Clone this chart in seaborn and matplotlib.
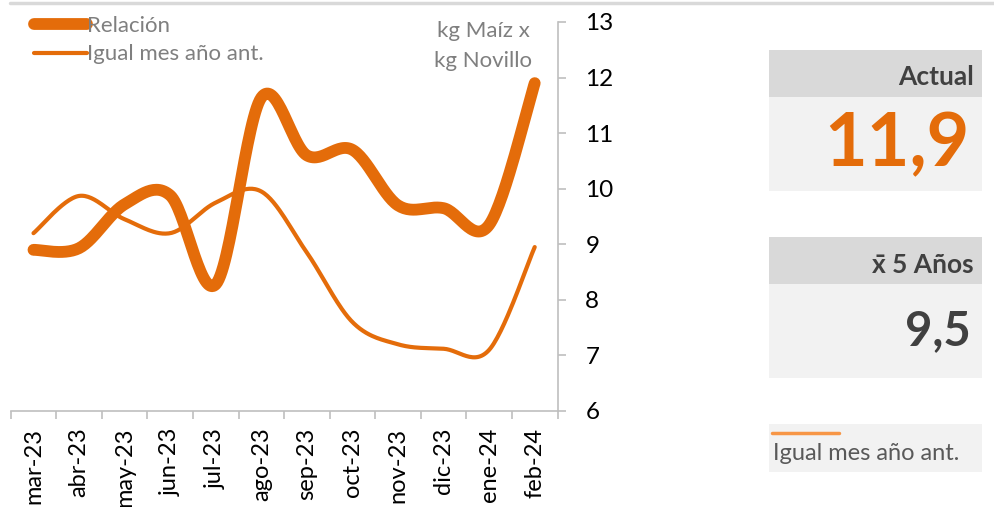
import numpy as np
import pandas as pd
import seaborn as sns
import matplotlib.pyplot as plt
from matplotlib.patches import Rectangle
from matplotlib.lines import Line2D

meses = ['mar-23', 'abr-23', 'may-23', 'jun-23', 'jul-23', 'ago-23',
         'sep-23', 'oct-23', 'nov-23', 'dic-23', 'ene-24', 'feb-24']
relacion = [8.9, 8.93, 9.72, 9.88, 8.28, 11.64, 10.6, 10.7, 9.7, 9.65, 9.35, 11.9]
igual_mes = [9.2, 9.87, 9.45, 9.2, 9.75, 9.95, 8.85, 7.6, 7.2, 7.12, 7.1, 8.95]
actual = '11,9'
promedio_5 = '9,5'

naranja = '#E46C0A'
gris_txt = '#7F7F7F'
eje = '#BFBFBF'

sns.set_theme(style='white')
plt.rcParams['font.family'] = ['Lato', 'DejaVu Sans']

W, H = 994, 507


def suavizar(vals, n=30):
    # curva suave tipo Excel (Catmull-Rom)
    x = np.arange(len(vals)) + 0.5
    y = np.asarray(vals, dtype=float)
    px = np.concatenate([[x[0]], x, [x[-1]]])
    py = np.concatenate([[y[0]], y, [y[-1]]])
    xs, ys = [], []
    for i in range(1, len(px) - 2):
        t = np.linspace(0, 1, n, endpoint=False)
        for p, out in ((px, xs), (py, ys)):
            p0, p1, p2, p3 = p[i - 1], p[i], p[i + 1], p[i + 2]
            out.extend(0.5 * (2 * p1 + (-p0 + p2) * t
                              + (2 * p0 - 5 * p1 + 4 * p2 - p3) * t ** 2
                              + (-p0 + 3 * p1 - 3 * p2 + p3) * t ** 3))
    xs.append(x[-1])
    ys.append(y[-1])
    return pd.DataFrame({'x': xs, 'y': ys})


def fx(px):
    return px / W


def fy(py):
    return 1 - py / H


fig = plt.figure(figsize=(9.94, 5.07), dpi=100)
ax = fig.add_axes([fx(10.7), fy(411), fx(557.5) - fx(10.7), fy(22) - fy(411)])

rel = suavizar(relacion)
ant = suavizar(igual_mes)
sns.lineplot(data=ant, x='x', y='y', sort=False, estimator=None, ax=ax,
             color=naranja, linewidth=3.0, solid_capstyle='round', label='Igual mes año ant.')
sns.lineplot(data=rel, x='x', y='y', sort=False, estimator=None, ax=ax,
             color=naranja, linewidth=8.5, solid_capstyle='round', label='Relación')

ax.set_xlim(0, 12)
ax.set_ylim(6, 13)
ax.set_xlabel('')
ax.set_ylabel('')

ax.set_xticks(range(13))
ax.set_xticklabels([])
ax.set_xticks(np.arange(12) + 0.5, minor=True)
ax.set_xticklabels(meses, minor=True, rotation=90, fontsize=17, color='black')
ax.tick_params(axis='x', which='major', direction='out', length=5.5, width=1.2,
               color=eje, bottom=True)
ax.tick_params(axis='x', which='minor', length=0, pad=12)

ax.yaxis.tick_right()
ax.set_yticks(range(6, 14))
ax.tick_params(axis='y', direction='out', length=6, width=1.2, color=eje,
               labelsize=17.5, labelcolor='black', pad=14, right=True)

for s in ['top', 'left']:
    ax.spines[s].set_visible(False)
for s in ['bottom', 'right']:
    ax.spines[s].set_color(eje)
    ax.spines[s].set_linewidth(1.2)

# leyenda
h, l = ax.get_legend_handles_labels()
leg = ax.legend(h[::-1], l[::-1], loc='upper left', bbox_to_anchor=(fx(34), fy(16)),
                bbox_transform=fig.transFigure, frameon=False, fontsize=16,
                handlelength=2.4, handletextpad=0.0, labelspacing=0.38,
                borderaxespad=0, borderpad=0)
for t in leg.get_texts():
    t.set_color(gris_txt)

fig.text(fx(483), fy(31), 'kg Maíz x', ha='center', va='center', fontsize=16, color=gris_txt)
fig.text(fx(483), fy(61), 'kg Novillo', ha='center', va='center', fontsize=16, color=gris_txt)

# línea superior
fig.add_artist(Line2D([fx(10), fx(994)], [fy(3), fy(3)], color='#D9D9D9', linewidth=2.5))

# panel derecho
for y0, y1, c in [(50, 97, '#D9D9D9'), (97, 191, '#F2F2F2'),
                  (237, 284, '#D9D9D9'), (284, 378, '#F2F2F2'),
                  (424, 472, '#F2F2F2')]:
    fig.add_artist(Rectangle((fx(769), fy(y1)), fx(982) - fx(769), fy(y0) - fy(y1),
                             transform=fig.transFigure, facecolor=c, edgecolor='none'))

fig.text(fx(974), fy(77), 'Actual', ha='right', va='center', fontsize=19,
         fontweight='bold', color='#404040')
fig.text(fx(969), fy(145), actual, ha='right', va='center', fontsize=53,
         fontweight='bold', color=naranja)
fig.text(fx(974), fy(265), 'x̄ 5 Años', ha='right', va='center', fontsize=19,
         fontweight='bold', color='#404040')
fig.text(fx(971), fy(331), promedio_5, ha='right', va='center', fontsize=34,
         fontweight='bold', color='#404040')
fig.add_artist(Line2D([fx(772), fx(839)], [fy(433), fy(433)], color='#F79646', linewidth=2.5))
fig.text(fx(773), fy(453), 'Igual mes año ant.', ha='left', va='center', fontsize=17,
         color='#595959')

fig.savefig('out.png', dpi=100)
